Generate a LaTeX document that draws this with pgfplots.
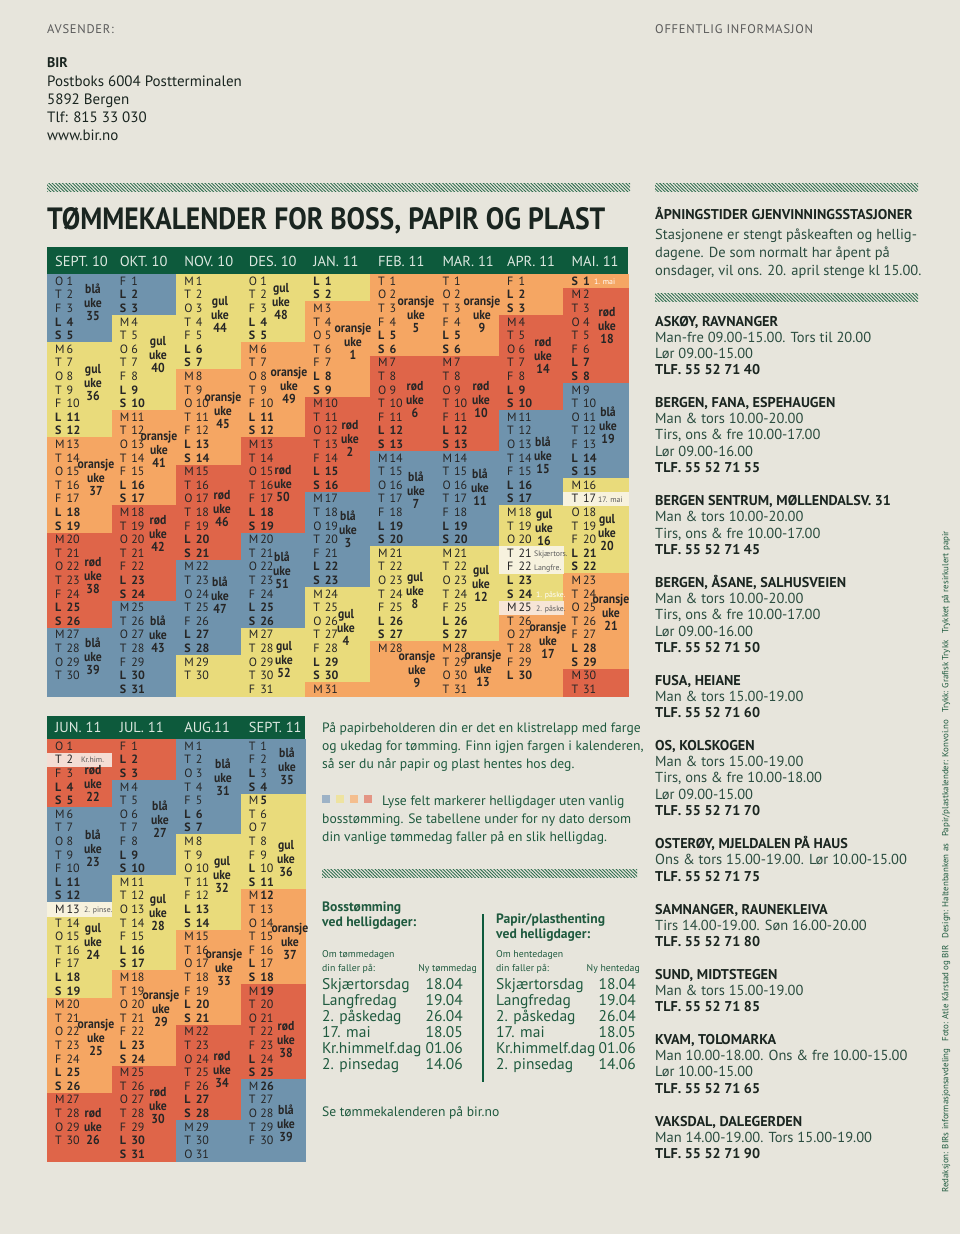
\documentclass[border=0pt]{standalone}
\usepackage{fontspec}
\setmainfont{PT Sans}
\usepackage{graphicx}
\usepackage{pgfplots}
\pgfplotsset{compat=1.18}
\usetikzlibrary{patterns,patterns.meta}

\definecolor{bg}{HTML}{E7E5DC}
\definecolor{cB}{HTML}{6F93AD}
\definecolor{cY}{HTML}{E9DB7B}
\definecolor{cO}{HTML}{F5A663}
\definecolor{cR}{HTML}{DF6549}
\definecolor{pY}{HTML}{F7F2DE}
\definecolor{pO}{HTML}{F7E5D6}
\definecolor{pR}{HTML}{F4DDD4}
\definecolor{lB}{HTML}{9DB2C6}
\definecolor{lY}{HTML}{EEE3A0}
\definecolor{lO}{HTML}{F4BE8E}
\definecolor{lR}{HTML}{E49584}
\definecolor{hg}{HTML}{0D5A3C}
\definecolor{ht}{HTML}{DDE8E0}
\definecolor{tg}{HTML}{1F5A3F}
\definecolor{rb}{HTML}{2A4C3F}
\definecolor{hd}{HTML}{1A2520}
\definecolor{dk}{HTML}{262626}
\definecolor{hatch}{HTML}{2F6E50}
\definecolor{gr}{HTML}{5A5A5A}

\newcommand\fz[1]{\fontsize{#1pt}{#1pt}\selectfont}
\newcommand\rect[5]{\addplot[draw=none,fill=#5,forget plot] coordinates {(#1,#2) (#3,#2) (#3,#4) (#1,#4)};}
\newcommand\hatchband[4]{\addplot[draw=none,forget plot,pattern={Lines[angle=-45,distance=2.4pt,line width=0.9pt]},pattern color=hatch] coordinates {(#1,#2) (#3,#2) (#3,#4) (#1,#4)};}
% block: col, ytop, firstday, lastday, colour
\newcommand\blk[5]{%
 \pgfmathsetmacro\xa{47+#1*64.56}%
 \pgfmathsetmacro\xb{47+(#1+1)*64.56}%
 \pgfmathsetmacro\ya{#2+(#3-1)*13.6}%
 \pgfmathsetmacro\yb{#2+#4*13.6}%
 \edef\tmp{\noexpand\addplot[draw=#5,line width=0.2pt,fill=#5,forget plot] coordinates {(\xa,\ya) (\xb,\ya) (\xb,\yb) (\xa,\yb)};}\tmp}

% day texts: colx, ytop, start weekday (0=Mon), ndays, bold shift of numbers
\newcommand\mdays[5]{%
 \foreach \d in {1,...,#4}{%
  \pgfmathtruncatemacro\mywd{mod(#3+\d-1,7)}%
  \pgfmathtruncatemacro\mywn{mod(#3+\d-1-#5+7,7)}%
  \pgfmathsetmacro\yy{#2+(\d-0.5)*13.6+4.2}%
  \ifnum\mywd>4 \def\myLf{\bfseries}\else\def\myLf{}\fi
  \ifnum\mywn>4 \def\myNf{\bfseries}\else\def\myNf{}\fi
  \node[anchor=base west,inner sep=0pt,text=dk,font=\fz{12}] at (#1+8,\yy) {\myLf\ifcase\mywd M\or T\or O\or T\or F\or L\or S\fi};
  \node[anchor=base west,inner sep=0pt,text=dk,font=\fz{12}] at (#1+19.5,\yy) {\myNf\d};
 }}
\tikzset{lab/.style={anchor=base,inner sep=0pt,text=dk,font=\fz{13}\bfseries}}
\newcommand\wk[4]{%
 \node[lab] at (#1,#2-13.4+4) {\scalebox{0.9}[1]{#3}};
 \node[lab] at (#1,#2+4) {\scalebox{0.9}[1]{uke}};
 \node[lab] at (#1,#2+13.4+4) {\scalebox{0.9}[1]{#4}};}
\newcommand\R[3]{\node[anchor=base west,inner sep=0pt,#2] at (655,#1) {#3};}
\tikzset{hd/.style={text=hd,font=\fz{14.2}\bfseries},bd/.style={text=rb,font=\fz{14.5}},
 mt/.style={anchor=base west,inner sep=0pt,text=tg,font=\fz{13.6}},
 tb/.style={inner sep=0pt,text=tg,font=\fz{15.5}},
 th/.style={anchor=base west,inner sep=0pt,text=tg,font=\fz{13.6}\bfseries},
 sm/.style={inner sep=0pt,text=tg,font=\fz{9.8}},
 mh/.style={anchor=base,inner sep=0pt,text=ht,font=\fz{14.5}}}

\begin{document}
\begin{tikzpicture}
\useasboundingbox (0,0) rectangle (960pt,-1234pt);
\begin{axis}[at={(0,0)},anchor=north west,scale only axis,width=960pt,height=1234pt,
  xmin=0,xmax=960,ymin=0,ymax=1234,y dir=reverse,hide axis,clip=false]
\rect{0}{0}{960}{1234}{bg}
% hatch bands
\hatchband{47}{183}{630}{191}
\hatchband{655}{183}{918}{191}
\hatchband{655}{293}{918}{301}
\hatchband{322}{869}{637}{877}
% header bands
\rect{47}{247}{628}{274.2}{hg}
\rect{47}{716}{305.24}{739.2}{hg}
% ---- top grid (ytop 274.2) ----
% SEPT 10
\blk{0}{274.2}{1}{5}{cB}\blk{0}{274.2}{6}{12}{cY}\blk{0}{274.2}{13}{19}{cO}\blk{0}{274.2}{20}{26}{cR}\blk{0}{274.2}{27}{31}{cB}
% OKT 10
\blk{1}{274.2}{1}{3}{cB}\blk{1}{274.2}{4}{10}{cY}\blk{1}{274.2}{11}{17}{cO}\blk{1}{274.2}{18}{24}{cR}\blk{1}{274.2}{25}{31}{cB}
% NOV 10
\blk{2}{274.2}{1}{7}{cY}\blk{2}{274.2}{8}{14}{cO}\blk{2}{274.2}{15}{21}{cR}\blk{2}{274.2}{22}{28}{cB}\blk{2}{274.2}{29}{31}{cY}
% DES 10
\blk{3}{274.2}{1}{5}{cY}\blk{3}{274.2}{6}{12}{cO}\blk{3}{274.2}{13}{19}{cR}\blk{3}{274.2}{20}{26}{cB}\blk{3}{274.2}{27}{31}{cY}
% JAN 11
\blk{4}{274.2}{1}{2}{cY}\blk{4}{274.2}{3}{9}{cO}\blk{4}{274.2}{10}{16}{cR}\blk{4}{274.2}{17}{23}{cB}\blk{4}{274.2}{24}{30}{cY}\blk{4}{274.2}{31}{31}{cO}
% FEB 11
\blk{5}{274.2}{1}{6}{cO}\blk{5}{274.2}{7}{13}{cR}\blk{5}{274.2}{14}{20}{cB}\blk{5}{274.2}{21}{27}{cY}\blk{5}{274.2}{28}{31}{cO}
% MAR 11
\blk{6}{274.2}{1}{6}{cO}\blk{6}{274.2}{7}{13}{cR}\blk{6}{274.2}{14}{20}{cB}\blk{6}{274.2}{21}{27}{cY}\blk{6}{274.2}{28}{31}{cO}
% APR 11
\blk{7}{274.2}{1}{3}{cO}\blk{7}{274.2}{4}{10}{cR}\blk{7}{274.2}{11}{17}{cB}\blk{7}{274.2}{18}{24}{cY}\blk{7}{274.2}{25}{31}{cO}
% MAI 11
\blk{8}{274.2}{1}{1}{cO}\blk{8}{274.2}{2}{8}{cR}\blk{8}{274.2}{9}{15}{cB}\blk{8}{274.2}{16}{22}{cY}\blk{8}{274.2}{23}{29}{cO}\blk{8}{274.2}{30}{31}{cR}
% ---- bottom grid (ytop 739.2) ----
\blk{0}{739.2}{1}{5}{cR}\blk{0}{739.2}{6}{12}{cB}\blk{0}{739.2}{13}{19}{cY}\blk{0}{739.2}{20}{26}{cO}\blk{0}{739.2}{27}{31}{cR}
\blk{1}{739.2}{1}{3}{cR}\blk{1}{739.2}{4}{10}{cB}\blk{1}{739.2}{11}{17}{cY}\blk{1}{739.2}{18}{24}{cO}\blk{1}{739.2}{25}{31}{cR}
\blk{2}{739.2}{1}{7}{cB}\blk{2}{739.2}{8}{14}{cY}\blk{2}{739.2}{15}{21}{cO}\blk{2}{739.2}{22}{28}{cR}\blk{2}{739.2}{29}{31}{cB}
\blk{3}{739.2}{1}{4}{cB}\blk{3}{739.2}{5}{11}{cY}\blk{3}{739.2}{12}{18}{cO}\blk{3}{739.2}{19}{25}{cR}\blk{3}{739.2}{26}{31}{cB}
% holidays (light cells)
\blk{7}{274.2}{21}{22}{pY}\blk{7}{274.2}{25}{25}{pO}\blk{8}{274.2}{17}{17}{pY}
\blk{0}{739.2}{2}{2}{pR}\blk{0}{739.2}{13}{13}{pY}
% legend squares
\rect{322}{795}{330}{803}{lB}\rect{336}{795}{344}{803}{lY}\rect{350}{795}{358}{803}{lO}\rect{364}{795}{372}{803}{lR}
% divider between tables
\addplot[draw=hg,line width=1.4pt,forget plot] coordinates {(483,914) (483,1082)};
\end{axis}

\begin{scope}[x=1pt,y=-1pt]
% header
\node[anchor=base west,inner sep=0pt,text=gr,font=\fz{12.5}\addfontfeature{LetterSpace=6}] at (47,33) {AVSENDER:};
\node[anchor=base west,inner sep=0pt,text=gr,font=\fz{12.5}\addfontfeature{LetterSpace=6}] at (655,33) {OFFENTLIG INFORMASJON};
\node[anchor=base west,inner sep=0pt,text=hd,font=\fz{14}\bfseries] at (47,67) {BIR};
\node[anchor=base west,inner sep=0pt,text=hd,font=\fz{15}] at (47,86) {Postboks 6004 Postterminalen};
\node[anchor=base west,inner sep=0pt,text=hd,font=\fz{15}] at (47,104) {5892 Bergen};
\node[anchor=base west,inner sep=0pt,text=hd,font=\fz{15}] at (47,122) {Tlf: 815 33 030};
\node[anchor=base west,inner sep=0pt,text=hd,font=\fz{15}] at (47,140) {www.bir.no};
\node[anchor=base west,inner sep=0pt,text=hd] at (47,229) {\resizebox{558pt}{22pt}{\bfseries TØMMEKALENDER FOR BOSS, PAPIR OG PLAST}};
% month headers
\node[mh,anchor=base west] at (55,266) {SEPT. 10};
\node[mh,anchor=base west] at (119.6,266) {OKT. 10};
\node[mh,anchor=base west] at (184.1,266) {NOV. 10};
\node[mh,anchor=base west] at (248.7,266) {DES. 10};
\node[mh,anchor=base west] at (313.2,266) {JAN. 11};
\node[mh,anchor=base west] at (377.8,266) {FEB. 11};
\node[mh,anchor=base west] at (442.3,266) {MAR. 11};
\node[mh,anchor=base west] at (506.9,266) {APR. 11};
\node[mh,anchor=base west] at (571.4,266) {MAI. 11};
\node[mh,anchor=base west] at (55,732) {JUN. 11};
\node[mh,anchor=base west] at (119.6,732) {JUL. 11};
\node[mh,anchor=base west] at (184.1,732) {AUG.11};
\node[mh,anchor=base west] at (248.7,732) {SEPT. 11};
% day texts
\mdays{47}{274.2}{2}{30}{0}
\mdays{111.56}{274.2}{4}{31}{0}
\mdays{176.12}{274.2}{0}{30}{0}
\mdays{240.68}{274.2}{2}{31}{0}
\mdays{305.24}{274.2}{5}{31}{0}
\mdays{369.8}{274.2}{1}{28}{0}
\mdays{434.36}{274.2}{1}{31}{0}
\mdays{498.92}{274.2}{4}{30}{0}
\mdays{563.48}{274.2}{6}{31}{0}
\mdays{47}{739.2}{2}{30}{0}
\mdays{111.56}{739.2}{4}{31}{0}
\mdays{176.12}{739.2}{0}{31}{0}
\mdays{240.68}{739.2}{3}{30}{1}
% week labels top
\wk{93}{303}{blå}{35}\wk{93}{383}{gul}{36}\wk{96}{478}{oransje}{37}\wk{93}{576}{rød}{38}\wk{93}{657}{blå}{39}
\wk{158}{355}{gul}{40}\wk{159}{450}{oransje}{41}\wk{158}{534}{rød}{42}\wk{158}{635}{blå}{43}
\wk{220}{315}{gul}{44}\wk{223}{411}{oransje}{45}\wk{222}{509}{rød}{46}\wk{220}{596}{blå}{47}
\wk{281}{302}{gul}{48}\wk{289}{386}{oransje}{49}\wk{283}{484}{rød}{50}\wk{282}{571}{blå}{51}\wk{284}{660}{gul}{52}
\wk{353}{342}{oransje}{1}\wk{350}{439}{rød}{2}\wk{348}{530}{blå}{3}\wk{346}{628}{gul}{4}
\wk{416}{315}{oransje}{5}\wk{415}{400}{rød}{6}\wk{416}{491}{blå}{7}\wk{415}{591}{gul}{8}\wk{417}{670}{oransje}{9}
\wk{482}{315}{oransje}{9}\wk{481}{400}{rød}{10}\wk{480}{488}{blå}{11}\wk{481}{584}{gul}{12}\wk{483}{669}{oransje}{13}
\wk{543}{356}{rød}{14}\wk{543}{456}{blå}{15}\wk{544}{528}{gul}{16}\wk{548}{641}{oransje}{17}
\wk{607}{326}{rød}{18}\wk{608}{426}{blå}{19}\wk{607}{533}{gul}{20}\wk{611}{613}{oransje}{21}
% week labels bottom
\wk{93}{784}{rød}{22}\wk{93}{849}{blå}{23}\wk{93}{942}{gul}{24}\wk{96}{1038}{oransje}{25}\wk{93}{1127}{rød}{26}
\wk{160}{820}{blå}{27}\wk{158}{913}{gul}{28}\wk{161}{1009}{oransje}{29}\wk{158}{1106}{rød}{30}
\wk{223}{778}{blå}{31}\wk{222}{875}{gul}{32}\wk{224}{968}{oransje}{33}\wk{222}{1070}{rød}{34}
\wk{287}{767}{blå}{35}\wk{286}{859}{gul}{36}\wk{290}{942}{oransje}{37}\wk{286}{1040}{rød}{38}\wk{286}{1124}{blå}{39}
% holiday notes
\node[anchor=base west,inner sep=0pt,font=\fz{7.8},text=white] at (594,284) {1. mai};
\node[anchor=base west,inner sep=0pt,font=\fz{7.8},text=gr] at (598,502) {17. mai};
\node[anchor=base west,inner sep=0pt,font=\fz{7.8},text=gr] at (534,556) {Skjærtors.};
\node[anchor=base west,inner sep=0pt,font=\fz{7.8},text=gr] at (534,570) {Langfre.};
\node[anchor=base west,inner sep=0pt,font=\fz{7.8},text=white] at (536,597) {1. påske.};
\node[anchor=base west,inner sep=0pt,font=\fz{7.8},text=gr] at (536,611) {2. påske.};
\node[anchor=base west,inner sep=0pt,font=\fz{7.8},text=gr] at (81,762) {Kr.him.};
\node[anchor=base west,inner sep=0pt,font=\fz{7.8},text=gr] at (84,912) {2. pinse.};
% middle text
\node[mt] at (322,732) {På papirbeholderen din er det en klistrelapp med farge};
\node[mt] at (322,750) {og ukedag for tømming. Finn igjen fargen i kalenderen,};
\node[mt] at (322,768) {så ser du når papir og plast hentes hos deg.};
\node[mt] at (382,805) {Lyse felt markerer helligdager uten vanlig};
\node[mt] at (322,823) {bosstømming. Se tabellene under for ny dato dersom};
\node[mt] at (322,841) {din vanlige tømmedag faller på en slik helligdag.};
% tables
\node[th] at (322,911) {Bosstømming};
\node[th] at (322,926) {ved helligdager:};
\node[th] at (496,923) {Papir/plasthenting};
\node[th] at (496,938) {ved helligdager:};
\node[sm,anchor=base west] at (322,957) {Om tømmedagen};
\node[sm,anchor=base west] at (322,971) {din faller på:};
\node[sm,anchor=base east] at (477,971) {Ny tømmedag};
\node[sm,anchor=base west] at (496,957) {Om hentedagen};
\node[sm,anchor=base west] at (496,971) {din faller på:};
\node[sm,anchor=base east] at (640,971) {Ny hentedag};
\foreach \n/\dt/\yy in {Skjærtorsdag/18.04/989,Langfredag/19.04/1005,2. påskedag/26.04/1021,17. mai/18.05/1037,Kr.himmelf.dag/01.06/1053,2. pinsedag/14.06/1069}{
 \node[tb,anchor=base west] at (322,\yy) {\n};
 \node[tb,anchor=base east] at (463,\yy) {\dt};
 \node[tb,anchor=base west] at (496,\yy) {\n};
 \node[tb,anchor=base east] at (636,\yy) {\dt};
}
\node[mt] at (322,1116) {Se tømmekalenderen på bir.no};
% right column
\R{219}{hd}{ÅPNINGSTIDER GJENVINNINGSSTASJONER}
\R{239}{bd}{Stasjonene er stengt påskeaften og hellig-}
\R{257}{bd}{dagene. De som normalt har åpent på}
\R{275}{bd}{onsdager, vil ons. 20. april stenge kl 15.00.}
\R{326}{hd}{ASKØY, RAVNANGER}
\R{342}{bd}{Man-fre 09.00-15.00. Tors til 20.00}
\R{358}{bd}{Lør 09.00-15.00}
\R{374}{hd}{TLF. 55 52 71 40}
\R{407}{hd}{BERGEN, FANA, ESPEHAUGEN}
\R{423}{bd}{Man \& tors 10.00-20.00}
\R{439}{bd}{Tirs, ons \& fre 10.00-17.00}
\R{456}{bd}{Lør 09.00-16.00}
\R{472}{hd}{TLF. 55 52 71 55}
\R{505}{hd}{BERGEN SENTRUM, MØLLENDALSV. 31}
\R{521}{bd}{Man \& tors 10.00-20.00}
\R{538}{bd}{Tirs, ons \& fre 10.00-17.00}
\R{554}{hd}{TLF. 55 52 71 45}
\R{587}{hd}{BERGEN, ÅSANE, SALHUSVEIEN}
\R{603}{bd}{Man \& tors 10.00-20.00}
\R{619}{bd}{Tirs, ons \& fre 10.00-17.00}
\R{636}{bd}{Lør 09.00-16.00}
\R{652}{hd}{TLF. 55 52 71 50}
\R{685}{hd}{FUSA, HEIANE}
\R{701}{bd}{Man \& tors 15.00-19.00}
\R{717}{hd}{TLF. 55 52 71 60}
\R{750}{hd}{OS, KOLSKOGEN}
\R{766}{bd}{Man \& tors 15.00-19.00}
\R{782}{bd}{Tirs, ons \& fre 10.00-18.00}
\R{799}{bd}{Lør 09.00-15.00}
\R{815}{hd}{TLF. 55 52 71 70}
\R{848}{hd}{OSTERØY, MJELDALEN PÅ HAUS}
\R{864}{bd}{Ons \& tors 15.00-19.00. Lør 10.00-15.00}
\R{881}{hd}{TLF. 55 52 71 75}
\R{914}{hd}{SAMNANGER, RAUNEKLEIVA}
\R{930}{bd}{Tirs 14.00-19.00. Søn 16.00-20.00}
\R{946}{hd}{TLF. 55 52 71 80}
\R{979}{hd}{SUND, MIDTSTEGEN}
\R{995}{bd}{Man \& tors 15.00-19.00}
\R{1011}{hd}{TLF. 55 52 71 85}
\R{1044}{hd}{KVAM, TOLOMARKA}
\R{1060}{bd}{Man 10.00-18.00. Ons \& fre 10.00-15.00}
\R{1076}{bd}{Lør 10.00-15.00}
\R{1093}{hd}{TLF. 55 52 71 65}
\R{1126}{hd}{VAKSDAL, DALEGERDEN}
\R{1142}{bd}{Man 14.00-19.00. Tors 15.00-19.00}
\R{1158}{hd}{TLF. 55 52 71 90}
% vertical credits
\node[rotate=90,inner sep=0pt,text=tg,font=\fz{8.9}] at (946,862) {Redaksjon: BIRs informasjonsavdeling\hspace{7pt}Foto: Atle Kårstad og BIR\hspace{7pt}Design: Haltenbanken as\hspace{7pt}Papir/plastkalender: Konvoi.no\hspace{7pt}Trykk: Grafisk Trykk\hspace{7pt}Trykket på resirkulert papir};
\end{scope}
\end{tikzpicture}
\end{document}
